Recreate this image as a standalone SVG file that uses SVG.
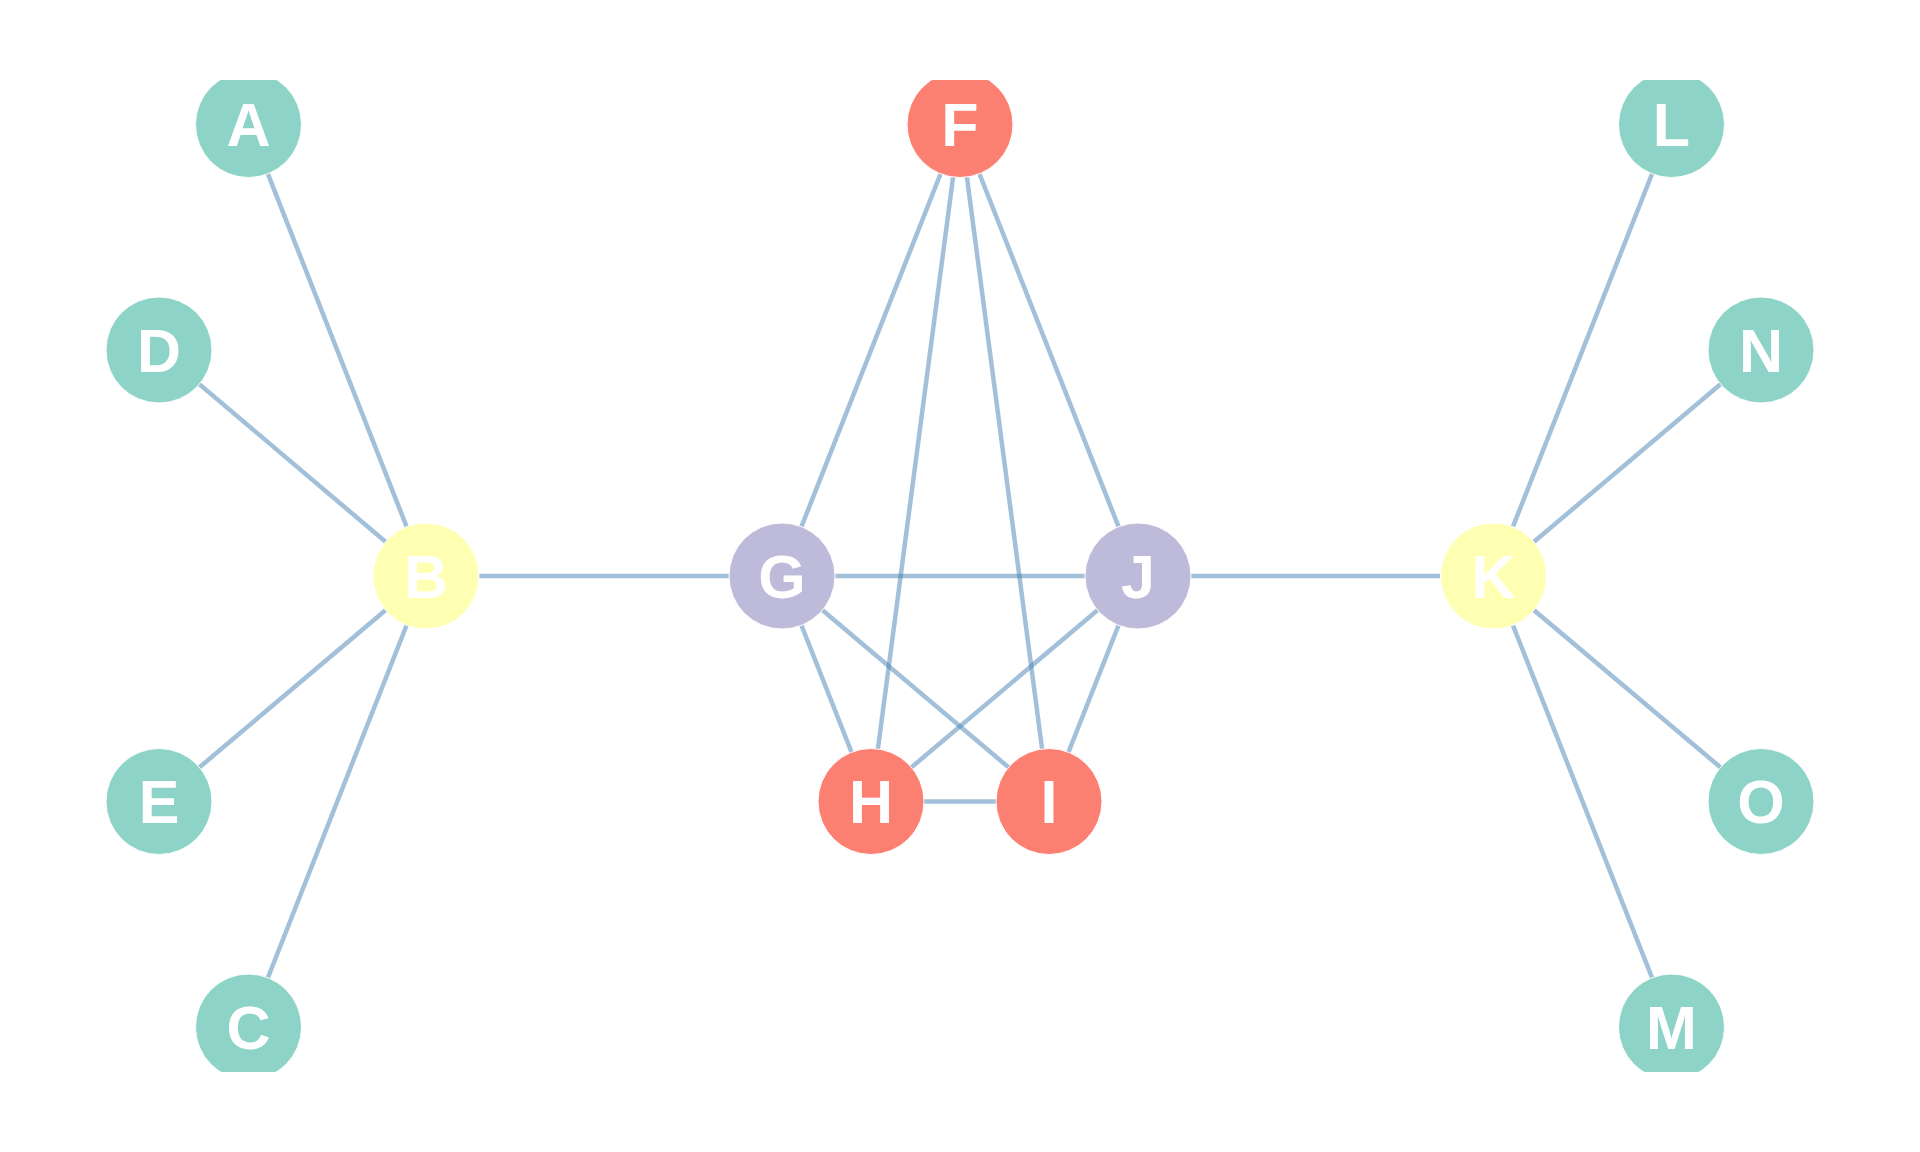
<svg xmlns="http://www.w3.org/2000/svg" width="1920" height="1152" viewBox="0 0 1920 1152">
<style>
.edge{stroke:#4682b4;stroke-opacity:0.5;stroke-width:4.5;fill:none}
.node circle{stroke:#fff;stroke-width:1}
.node text{font-weight:bold;font-size:61px;fill:#fff;text-anchor:middle}
.t{fill:#8dd3c7}.y{fill:#ffffb3}.p{fill:#bebada}.r{fill:#fb8072}
</style>
<defs><clipPath id="clip"><rect x="0" y="80" width="1920" height="992"/></clipPath></defs>
<rect width="1920" height="1152" fill="#fff"/>
<g clip-path="url(#clip)">
<g id="connectors">
<line class="edge" x1="248.5" y1="124.5" x2="426" y2="576"/>
<line class="edge" x1="159" y1="350" x2="426" y2="576"/>
<line class="edge" x1="159" y1="801.5" x2="426" y2="576"/>
<line class="edge" x1="248.5" y1="1027" x2="426" y2="576"/>
<line class="edge" x1="426" y1="576" x2="782" y2="576"/>
<line class="edge" x1="782" y1="576" x2="1138" y2="576"/>
<line class="edge" x1="1138" y1="576" x2="1493.5" y2="576"/>
<line class="edge" x1="960" y1="124.5" x2="782" y2="576"/>
<line class="edge" x1="960" y1="124.5" x2="871" y2="801.5"/>
<line class="edge" x1="960" y1="124.5" x2="1049" y2="801.5"/>
<line class="edge" x1="960" y1="124.5" x2="1138" y2="576"/>
<line class="edge" x1="782" y1="576" x2="871" y2="801.5"/>
<line class="edge" x1="782" y1="576" x2="1049" y2="801.5"/>
<line class="edge" x1="1138" y1="576" x2="871" y2="801.5"/>
<line class="edge" x1="1138" y1="576" x2="1049" y2="801.5"/>
<line class="edge" x1="871" y1="801.5" x2="1049" y2="801.5"/>
<line class="edge" x1="1671.5" y1="124.5" x2="1493.5" y2="576"/>
<line class="edge" x1="1761" y1="350" x2="1493.5" y2="576"/>
<line class="edge" x1="1761" y1="801.5" x2="1493.5" y2="576"/>
<line class="edge" x1="1671.5" y1="1027" x2="1493.5" y2="576"/>
</g>
<g font-family="Liberation Sans, Arial, Helvetica, sans-serif">
<g id="node-A" class="node"><circle class="t" cx="248.5" cy="124.5" r="53"/><text x="248.5" y="146">A</text></g>
<g id="node-F" class="node"><circle class="r" cx="960" cy="124.5" r="53"/><text x="960" y="146">F</text></g>
<g id="node-L" class="node"><circle class="t" cx="1671.5" cy="124.5" r="53"/><text x="1671.5" y="146">L</text></g>
<g id="node-D" class="node"><circle class="t" cx="159" cy="350" r="53"/><text x="159" y="371.5">D</text></g>
<g id="node-N" class="node"><circle class="t" cx="1761" cy="350" r="53"/><text x="1761" y="371.5">N</text></g>
<g id="node-B" class="node"><circle class="y" cx="426" cy="576" r="53"/><text x="426" y="597.5">B</text></g>
<g id="node-G" class="node"><circle class="p" cx="782" cy="576" r="53"/><text x="782" y="597.5">G</text></g>
<g id="node-J" class="node"><circle class="p" cx="1138" cy="576" r="53"/><text x="1138" y="597.5">J</text></g>
<g id="node-K" class="node"><circle class="y" cx="1493.5" cy="576" r="53"/><text x="1493.5" y="597.5">K</text></g>
<g id="node-E" class="node"><circle class="t" cx="159" cy="801.5" r="53"/><text x="159" y="823">E</text></g>
<g id="node-H" class="node"><circle class="r" cx="871" cy="801.5" r="53"/><text x="871" y="823">H</text></g>
<g id="node-I" class="node"><circle class="r" cx="1049" cy="801.5" r="53"/><text x="1049" y="823">I</text></g>
<g id="node-O" class="node"><circle class="t" cx="1761" cy="801.5" r="53"/><text x="1761" y="823">O</text></g>
<g id="node-C" class="node"><circle class="t" cx="248.5" cy="1027" r="53"/><text x="248.5" y="1048.5">C</text></g>
<g id="node-M" class="node"><circle class="t" cx="1671.5" cy="1027" r="53"/><text x="1671.5" y="1048.5">M</text></g>
</g>
</g>
</svg>
